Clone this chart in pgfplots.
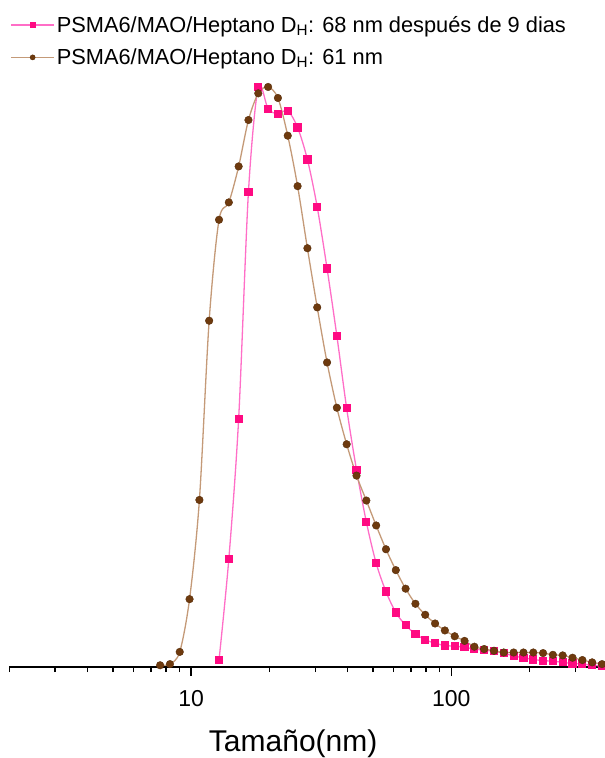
\documentclass[border=0pt]{standalone}
\usepackage{pgfplots}
\pgfplotsset{compat=1.18}
\usepackage{fontspec}
\setmainfont{Liberation Sans}

\definecolor{pinkmk}{HTML}{FF0A82}
\definecolor{pinkln}{HTML}{FF6EC7}
\definecolor{brownmk}{HTML}{6E3A0E}
\definecolor{brownln}{HTML}{C49A78}

\pgfplotstableread{
x      y
12.80  1.2
13.96  18.6
15.23  42.8
16.61  81.9
18.12  100
19.77  96.2
21.56  95.4
23.52  95.9
25.66  93.0
27.99  87.5
30.53  79.3
33.31  68.7
36.33  57.1
39.63  44.6
43.23  34.0
47.16  25.0
51.44  17.9
56.11  13.0
61.21  9.4
66.77  7.2
72.83  5.7
79.43  4.7
86.65  4.1
94.52  3.7
103.1  3.6
112.5  3.4
122.7  3.1
133.8  2.9
146.0  2.7
159.2  2.4
173.7  1.9
189.5  1.6
206.7  1.3
225.4  1.1
245.9  1.0
268.2  0.8
292.6  0.6
319.2  0.5
348.1  0.3
379.8  0.2
}\nuevedias

\pgfplotstableread{
x      y
7.60   0.3
8.29   0.5
9.04   2.6
9.86   11.7
10.76  28.8
11.73  59.7
12.80  77.1
13.96  80.1
15.23  86.3
16.61  94.3
18.12  98.9
19.77  100
21.56  98.1
23.52  91.6
25.66  82.9
27.99  72.2
30.53  62.0
33.31  52.5
36.33  44.7
39.63  38.4
43.23  33.0
47.16  28.7
51.44  24.4
56.11  20.3
61.21  16.7
66.77  13.5
72.83  10.9
79.43  9.0
86.65  7.5
94.52  6.3
103.1  5.3
112.5  4.5
122.7  3.5
133.8  3.1
146.0  2.8
159.2  2.5
173.7  2.5
189.5  2.5
206.7  2.5
225.4  2.4
245.9  2.1
268.2  2.0
292.6  1.6
319.2  1.2
348.1  0.8
379.8  0.5
}\inicial

\begin{document}
\begin{tikzpicture}
\begin{axis}[
  name=ax,
  xmode=log,
  scale only axis,
  width=595.7pt, height=587pt,
  xmin=2, xmax=390, ymin=0, ymax=101.2,
  axis x line=bottom, axis y line=none,
  axis line style={line width=1.6pt, -},
  xtick={10,100}, xticklabels={10,100},
  minor xtick={2,3,4,5,6,7,8,9,20,30,40,50,60,70,80,90,200,300},
  tick align=outside,
  major tick length=9pt, minor tick length=5pt,
  every tick/.style={black, line width=1.4pt},
  xticklabel style={font=\fontsize{23}{23}\selectfont, yshift=-11pt},
  xlabel={Tamaño(nm)},
  xlabel style={font=\fontsize{30}{30}\selectfont, xshift=-14pt, yshift=-16pt},
  legend style={at={(axis description cs:0,1)}, anchor=north west,
    xshift=1pt, yshift=66pt, draw=none, fill=none,
    font=\fontsize{21.8}{25}\selectfont, row sep=11pt,
    inner xsep=0pt, inner ysep=0pt},
  legend cell align=left,
  legend image code/.code={
    \draw[mark repeat=2, mark phase=2, #1, mark size=2.6pt]
      plot coordinates {(0pt,0pt) (21.5pt,0pt) (43pt,0pt)};},
]
\addplot[pinkln, line width=1.3pt, smooth, tension=0.5,
  mark=square*, mark size=3.6pt,
  mark options={fill=pinkmk, draw=pinkmk, line width=0pt}]
  table[x=x, y=y] {\nuevedias};
\addlegendentry{PSMA6/MAO/Heptano D\textsubscript{H}: 68 nm después de 9 dias}
\addplot[brownln, line width=1.3pt, smooth, tension=0.5,
  mark=*, mark size=3.8pt,
  mark options={fill=brownmk, draw=brownmk!80!black, line width=0.4pt}]
  table[x=x, y=y] {\inicial};
\addlegendentry{PSMA6/MAO/Heptano D\textsubscript{H}: 61 nm}
\end{axis}
\pgfresetboundingbox
\useasboundingbox (ax.south west) ++(-9.3pt,-91pt) rectangle ++(605pt,758pt);
\end{tikzpicture}
\end{document}
